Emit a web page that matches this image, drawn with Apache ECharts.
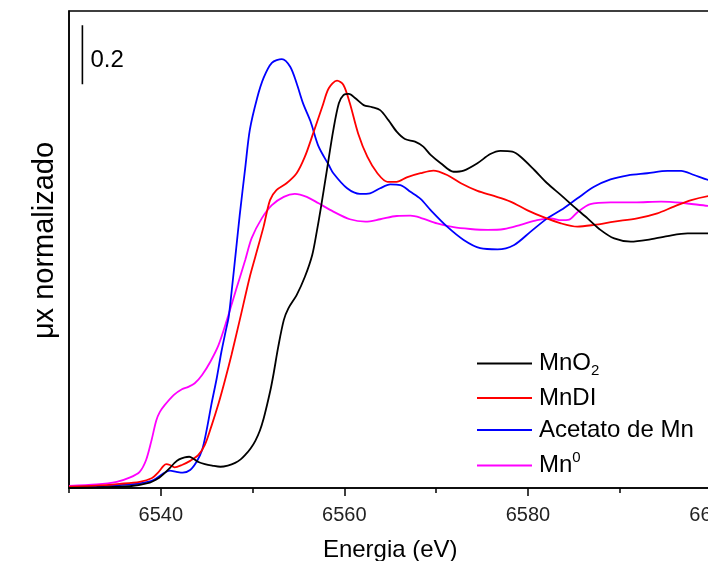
<!DOCTYPE html>
<html>
<head>
<meta charset="utf-8">
<script src="https://cdn.jsdelivr.net/npm/echarts@6/dist/echarts.min.js"></script>
<style>
html,body{margin:0;padding:0;background:#fff;}
#chart{width:708px;height:561px;}
</style>
</head>
<body>
<div id="chart"></div>
<script>
// ---- data (energy eV, normalized mu x) ----
const seriesNames = ['MnO2', 'MnDI', 'Acetato de Mn', 'Mn0'];
const majorTicks = [6540, 6560, 6580, 6600];
const minorTicks = [6530, 6550, 6570, 6590];
const scaleBar = [[6531.46, 1.369], [6531.46, 1.569]];
const scaleBarLabel = '0.2';

const mno2 = [[6530.0,0.000],[6533.0,0.002],[6536.6,0.006],[6538.8,0.018],[6539.8,0.034],[6540.3,0.047],[6541.0,0.068],[6541.5,0.085],[6542.0,0.097],[6542.6,0.104],[6543.1,0.106],[6543.6,0.098],[6544.1,0.088],[6544.8,0.081],[6545.6,0.076],[6546.5,0.072],[6547.3,0.076],[6548.1,0.085],[6548.7,0.097],[6549.2,0.112],[6549.8,0.135],[6550.3,0.160],[6550.8,0.195],[6551.2,0.235],[6551.6,0.285],[6552.0,0.340],[6552.3,0.389],[6552.8,0.479],[6553.4,0.569],[6553.9,0.609],[6554.8,0.654],[6555.7,0.716],[6556.5,0.790],[6557.0,0.870],[6557.4,0.942],[6558.1,1.078],[6558.8,1.214],[6559.4,1.304],[6559.9,1.332],[6560.5,1.336],[6561.2,1.321],[6562.1,1.298],[6563.0,1.291],[6563.9,1.281],[6564.8,1.247],[6565.7,1.208],[6566.6,1.183],[6567.7,1.174],[6568.6,1.157],[6569.4,1.129],[6570.5,1.101],[6571.9,1.072],[6573.0,1.076],[6574.5,1.101],[6575.9,1.132],[6577.0,1.143],[6578.3,1.140],[6579.2,1.123],[6580.7,1.078],[6582.1,1.033],[6583.6,0.993],[6585.0,0.954],[6586.5,0.914],[6587.9,0.875],[6589.4,0.846],[6591.2,0.835],[6593.0,0.841],[6595.2,0.854],[6597.4,0.863],[6599.7,0.863],[6602.0,0.864]];

const mndi = [[6530.0,0.005],[6533.0,0.008],[6535.5,0.014],[6537.7,0.021],[6539.0,0.033],[6539.7,0.052],[6540.3,0.075],[6540.6,0.081],[6541.0,0.078],[6541.5,0.070],[6542.3,0.078],[6543.2,0.092],[6544.1,0.112],[6544.8,0.146],[6545.5,0.208],[6546.3,0.287],[6547.0,0.366],[6547.7,0.451],[6548.6,0.569],[6549.7,0.716],[6550.3,0.784],[6551.2,0.886],[6551.9,0.976],[6552.6,1.010],[6553.7,1.033],[6554.8,1.067],[6555.7,1.123],[6556.6,1.202],[6557.6,1.293],[6558.3,1.355],[6559.2,1.381],[6559.9,1.366],[6560.6,1.304],[6561.5,1.202],[6562.5,1.123],[6563.6,1.067],[6564.7,1.038],[6565.7,1.038],[6566.8,1.053],[6568.3,1.067],[6569.7,1.076],[6571.2,1.061],[6572.7,1.033],[6574.5,1.007],[6576.3,0.990],[6578.1,0.971],[6579.9,0.942],[6581.7,0.918],[6583.6,0.897],[6585.4,0.886],[6587.2,0.892],[6589.4,0.903],[6591.9,0.914],[6594.1,0.931],[6595.9,0.954],[6597.8,0.976],[6599.7,0.990],[6602.0,1.000]];

const acetato = [[6530.0,0.003],[6533.0,0.006],[6535.5,0.010],[6537.7,0.016],[6539.2,0.027],[6540.3,0.050],[6541.0,0.059],[6541.7,0.055],[6542.4,0.052],[6543.2,0.061],[6543.9,0.089],[6544.5,0.129],[6545.0,0.197],[6545.5,0.281],[6546.1,0.373],[6546.6,0.461],[6547.1,0.536],[6547.4,0.580],[6547.7,0.661],[6548.2,0.807],[6548.6,0.925],[6549.2,1.085],[6549.7,1.214],[6550.5,1.322],[6551.2,1.390],[6552.1,1.441],[6553.2,1.454],[6554.1,1.428],[6554.8,1.372],[6555.5,1.304],[6556.3,1.244],[6557.2,1.157],[6558.3,1.095],[6558.8,1.067],[6560.3,1.016],[6561.7,0.997],[6562.8,0.999],[6563.9,1.016],[6565.0,1.029],[6566.1,1.027],[6567.2,1.004],[6568.3,0.980],[6569.4,0.942],[6571.2,0.886],[6573.0,0.841],[6574.8,0.813],[6576.7,0.809],[6578.5,0.824],[6580.3,0.869],[6582.1,0.914],[6583.6,0.942],[6585.4,0.982],[6587.2,1.021],[6589.0,1.046],[6590.9,1.060],[6593.0,1.067],[6595.2,1.075],[6596.7,1.075],[6598.1,1.061],[6599.7,1.044],[6602.0,1.030]];

const mn0 = [[6530.0,0.007],[6533.0,0.012],[6535.2,0.021],[6536.6,0.035],[6537.7,0.055],[6538.4,0.095],[6539.0,0.163],[6539.5,0.228],[6539.9,0.258],[6540.4,0.280],[6541.4,0.315],[6542.3,0.335],[6543.0,0.343],[6543.7,0.355],[6544.5,0.383],[6545.4,0.428],[6546.3,0.485],[6547.2,0.569],[6548.3,0.682],[6549.2,0.773],[6549.9,0.847],[6551.0,0.914],[6552.1,0.959],[6553.4,0.987],[6554.6,0.997],[6555.9,0.987],[6557.2,0.965],[6558.8,0.937],[6560.6,0.911],[6562.3,0.903],[6563.9,0.911],[6565.7,0.922],[6567.2,0.923],[6568.3,0.916],[6570.1,0.897],[6571.9,0.884],[6573.7,0.878],[6575.6,0.875],[6577.4,0.878],[6579.2,0.892],[6581.0,0.908],[6582.5,0.914],[6583.6,0.908],[6584.5,0.910],[6585.4,0.935],[6586.8,0.962],[6589.0,0.968],[6591.6,0.968],[6594.5,0.971],[6596.7,0.967],[6599.7,0.956],[6602.0,0.950]];

const colors = ['#000000', '#ff0000', '#0000ff', '#ff00ff'];
const seriesData = [mno2, mndi, acetato, mn0];

const FONT = '"Liberation Sans", Arial, sans-serif';
const chart = echarts.init(document.getElementById('chart'), null, {renderer: 'canvas'});

const lineSeries = seriesNames.map((name, i) => ({
  name: name,
  type: 'line',
  data: seriesData[i],
  showSymbol: false,
  symbol: 'none',
  smooth: 0.3,
  lineStyle: {color: colors[i], width: 1.8},
  itemStyle: {color: colors[i]},
  z: 10 - i,
  animation: false
}));

const option = {
  animation: false,
  backgroundColor: '#ffffff',
  grid: {
    left: 69, width: 642.5, top: 11, bottom: 73,
    outerBoundsMode: 'none', containLabel: false,
    show: true, borderColor: '#000', borderWidth: 1.5, backgroundColor: 'transparent'
  },
  xAxis: [
    {
      type: 'value', min: 6530, max: 6600, position: 'bottom',
      name: 'Energia (eV)', nameLocation: 'middle', nameGap: 50,
      nameTextStyle: {fontFamily: FONT, fontSize: 24, color: '#000'},
      axisLine: {show: true, lineStyle: {color: '#000', width: 1.5}},
      axisTick: {show: true, customValues: majorTicks, length: 8, lineStyle: {color: '#000', width: 1.5}},
      axisLabel: {show: true, customValues: majorTicks, margin: 17, fontFamily: FONT, fontSize: 20, color: '#222',
        formatter: function (v) { return String(v); }},
      splitLine: {show: false}
    },
    {
      type: 'value', min: 6530, max: 6600, position: 'bottom', offset: 0,
      axisLine: {show: false},
      axisTick: {show: true, customValues: minorTicks, length: 5, lineStyle: {color: '#000', width: 1.5}},
      axisLabel: {show: false},
      splitLine: {show: false}
    }
  ],
  yAxis: {
    type: 'value', min: 0, max: 477 / 295,
    name: 'μx normalizado', nameLocation: 'middle', nameGap: 10, nameRotate: 90,
    nameTextStyle: {fontFamily: FONT, fontSize: 29, color: '#000', padding: [0, 0, 0, 18]},
    axisLine: {show: true, lineStyle: {color: '#000', width: 1.5}},
    axisTick: {show: false},
    axisLabel: {show: false},
    splitLine: {show: false}
  },
  legend: {
    data: seriesNames,
    orient: 'vertical',
    left: 477, top: 349,
    padding: 0,
    itemGap: 8,
    itemWidth: 55,
    itemHeight: 2,
    icon: 'rect',
    textStyle: {
      fontFamily: FONT, fontSize: 24, color: '#000', lineHeight: 24, padding: [0,0,0,2],
      rich: {
        sub: {fontFamily: FONT, fontSize: 15, lineHeight: 24, padding: [14, 0, 0, 0], color: '#000'},
        sup: {fontFamily: FONT, fontSize: 15, lineHeight: 24, padding: [0, 0, 16, 0], color: '#000'}
      }
    },
    formatter: function (name) {
      if (name === 'MnO2') return 'MnO{sub|2}';
      if (name === 'Mn0') return 'Mn{sup|0}';
      return name;
    }
  },
  series: lineSeries.concat([{
    name: 'scale',
    type: 'line',
    data: scaleBar,
    symbol: 'none',
    showSymbol: false,
    lineStyle: {color: '#000', width: 1.6},
    endLabel: {show: true, formatter: scaleBarLabel, distance: 8, offset: [0, 35], fontFamily: FONT, fontSize: 24, color: '#000'},
    z: 20,
    silent: true,
    animation: false
  }])
};
chart.setOption(option);
</script>
</body>
</html>
